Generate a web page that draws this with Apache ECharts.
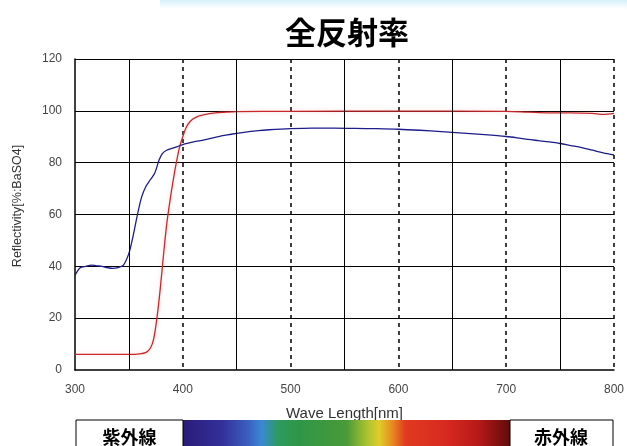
<!DOCTYPE html>
<html>
<head>
<meta charset="utf-8">
<script src="https://cdn.jsdelivr.net/npm/echarts@6/dist/echarts.min.js"></script>
<style>html,body{margin:0;padding:0;background:#fff;}#c{width:627px;height:446px;}</style>
</head>
<body>
<div id="c"></div>
<script>
// ---- data ----
const titleText = '全反射率';
const xName = 'Wave Length[nm]';
const yName = 'Reflectivity[%:BaSO4]';
const uvLabel = '紫外線';
const irLabel = '赤外線';

const blueWl = [300,302,305,310,315,320,325,330,335,340,345,350,353,356,359,362,366,370,374,378,381,385,390,395,400,410,420,430,440,450,460,470,480,500,520,540,560,580,600,620,640,660,680,700,710,720,730,740,750,760,770,780,790,800];
const blueRefl = [36.5,38,39.5,40,40.5,40.2,40,39.5,39.2,39.5,40.5,45,50,56,62,67,71,73.5,76,81,83.5,84.8,85.5,86.2,87,88,88.8,89.8,90.6,91.3,91.9,92.4,92.7,93.1,93.3,93.3,93.2,93.1,92.9,92.5,92,91.4,90.8,90.1,89.6,89,88.5,88,87.4,86.6,85.8,84.8,83.8,83];

const redWl = [300,350,360,366,370,373,376,379,382,385,388,391,394,397,400,403,407,412,420,430,440,450,500,600,700,720,740,760,780,790,800];
const redRefl = [6,6,6.2,6.8,8.5,12,20,31,44,56,65,73,80,86,90,93.5,96,97.5,98.5,99.2,99.5,99.7,99.8,99.9,99.8,99.5,99.2,99.2,99,98.6,99];

const solidGridX = [350,450,550,650,750];
const xMin = 300, xMax = 800, xStep = 100;
const yMin = 0, yMax = 120, yStep = 20;

const spectrumStops = [
  [0,'#2a1c78'],[0.12,'#33309a'],[0.2,'#3a60c0'],[0.24,'#3a88d4'],[0.29,'#2e9a60'],
  [0.35,'#2e9648'],[0.5,'#4a9a38'],[0.56,'#a8c030'],[0.6,'#e0cc2a'],[0.64,'#e88a22'],
  [0.68,'#e03a20'],[0.8,'#d82a20'],[0.9,'#b81a18'],[1,'#600c0c']
];

const zip = (a,b) => a.map((v,i)=>[v,b[i]]);

const chart = echarts.init(document.getElementById('c'));
const font = '"Liberation Sans", Arial, sans-serif';
chart.setOption({
  animation: false,
  backgroundColor: '#fff',
  title: {
    text: titleText, left: 280, top: 12,
    textStyle: {fontSize: 31, fontWeight: 'bold', color: '#000', fontFamily: '"Noto Sans CJK JP", sans-serif'}
  },
  grid: {left: 75, right: 12, top: 59, bottom: 76},
  xAxis: {
    type: 'value', min: xMin, max: xMax, interval: xStep,
    name: xName, nameLocation: 'middle', nameGap: 36,
    nameTextStyle: {fontSize: 15, color: '#333', fontFamily: font},
    axisLine: {lineStyle: {color: '#000', width: 1.5}},
    axisTick: {show: false},
    axisLabel: {fontSize: 12, color: '#444', margin: 14, fontFamily: font},
    splitLine: {show: true, showMinLine: false, lineStyle: {color: '#000', width: 1.5, type: [4,4]}}
  },
  yAxis: {
    type: 'value', min: yMin, max: yMax, interval: yStep,
    axisLine: {show: true, lineStyle: {color: '#000', width: 1.5}},
    axisTick: {show: false},
    axisLabel: {fontSize: 12, color: '#444', margin: 13, fontFamily: font},
    splitLine: {show: true, showMinLine: false, lineStyle: {color: '#000', width: 1}}
  },
  series: [
    {
      type: 'line', data: zip(redWl, redRefl), symbol: 'none', smooth: 0.3,
      lineStyle: {color: '#c8282a', width: 1.3, shadowColor: 'rgba(230,120,120,0.35)', shadowBlur: 4},
      z: 3,
      markLine: {
        silent: true, symbol: 'none', label: {show: false},
        lineStyle: {color: '#000', width: 1, type: 'solid'},
        data: solidGridX.map(v => ({xAxis: v}))
      }
    },
    {
      type: 'line', data: zip(blueWl, blueRefl), symbol: 'none', smooth: 0.3,
      lineStyle: {color: '#1c1c8a', width: 1.3}, z: 4
    }
  ],
  graphic: [
    {type: 'rect', left: 160, top: 0, shape: {width: 467, height: 9}, z: -1,
     style: {fill: new echarts.graphic.LinearGradient(0,0,0,1,[{offset:0,color:'#d6f0fa'},{offset:1,color:'#ffffff'}])}},
    {type: 'text', x: 18, y: 206, rotation: Math.PI/2, z: 10,
     style: {text: yName, fontSize: 12.5, fill: '#333', fontFamily: font, textAlign: 'center', textVerticalAlign: 'middle'}},
    {type: 'rect', shape: {x: 183, y: 420, width: 327, height: 30}, z: 20,
     style: {fill: new echarts.graphic.LinearGradient(0,0,1,0, spectrumStops.map(s=>({offset:s[0],color:s[1]})))}},
    {type: 'rect', shape: {x: 76, y: 420, width: 107, height: 30}, z: 20,
     style: {fill: '#fff', stroke: '#000', lineWidth: 1}},
    {type: 'rect', shape: {x: 510, y: 420, width: 103, height: 30}, z: 20,
     style: {fill: '#fff', stroke: '#000', lineWidth: 1}},
    {type: 'text', x: 129.5, y: 437, z: 21,
     style: {text: uvLabel, fontSize: 18, fontWeight: 'bold', fill: '#000', fontFamily: '"Noto Sans CJK JP", sans-serif', textAlign: 'center', textVerticalAlign: 'middle'}},
    {type: 'text', x: 561, y: 437, z: 21,
     style: {text: irLabel, fontSize: 18, fontWeight: 'bold', fill: '#000', fontFamily: '"Noto Sans CJK JP", sans-serif', textAlign: 'center', textVerticalAlign: 'middle'}}
  ]
});
</script>
</body>
</html>
